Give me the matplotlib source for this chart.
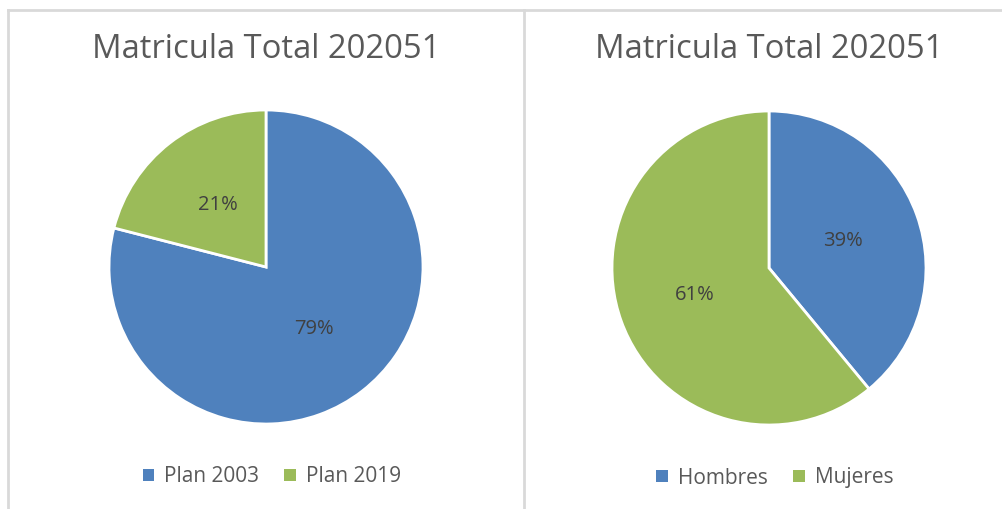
import matplotlib.pyplot as plt
from matplotlib.lines import Line2D
from matplotlib.patches import Patch

# data
title_text = "Matricula Total 202051"
plan_labels = ["Plan 2003", "Plan 2019"]
plan_values = [79, 21]
sexo_labels = ["Hombres", "Mujeres"]
sexo_values = [39, 61]

colors = ["#4F81BD", "#9BBB59"]
text_color = "#595959"
border_color = "#D9D9D9"

plt.rcParams['font.family'] = ['Open Sans', 'DejaVu Sans']

W, H = 1002, 509
fig = plt.figure(figsize=(W / 100, H / 100), dpi=100)


def px_axes(cx, cy, r):
    # axes box (in pixels, top-left origin) holding a pie of radius r
    return fig.add_axes([(cx - r) / W, (H - cy - r) / H, 2 * r / W, 2 * r / H])


def draw_pie(cx, cy, r, values, labels, title_x, legend_x, legend_y):
    ax = px_axes(cx, cy, r)
    ax.pie(values, colors=colors, startangle=90, counterclock=False,
           autopct='%1.0f%%', pctdistance=0.5,
           wedgeprops=dict(edgecolor='white', linewidth=2),
           textprops=dict(color="#404040", fontsize=14.5))
    ax.set_xlim(-1, 1)
    ax.set_ylim(-1, 1)
    ax.set_aspect('equal')
    ax.axis('off')
    fig.text(title_x / W, 1 - 50 / H, title_text, ha='center', va='center',
             fontsize=23.6, color=text_color)
    handles = [Patch(facecolor=c, edgecolor='none') for c in colors]
    fig.legend(handles, labels, loc='center', bbox_to_anchor=(legend_x / W, 1 - legend_y / H),
               ncol=2, frameon=False, fontsize=15, labelcolor=text_color,
               handlelength=0.55, handleheight=0.55, handletextpad=0.5, columnspacing=1.2)


draw_pie(266, 267, 157, plan_values, plan_labels, 266, 272, 477)
draw_pie(769, 268, 157, sexo_values, sexo_labels, 769, 775, 478)

# chart borders
fig.add_artist(Line2D([8 / W, 1], [1 - 10 / H, 1 - 10 / H], color=border_color, lw=2))
fig.add_artist(Line2D([8 / W, 8 / W], [0, 1 - 10 / H], color=border_color, lw=2))
fig.add_artist(Line2D([524 / W, 524 / W], [0, 1 - 10 / H], color=border_color, lw=2))

fig.savefig("out.png", dpi=100)
